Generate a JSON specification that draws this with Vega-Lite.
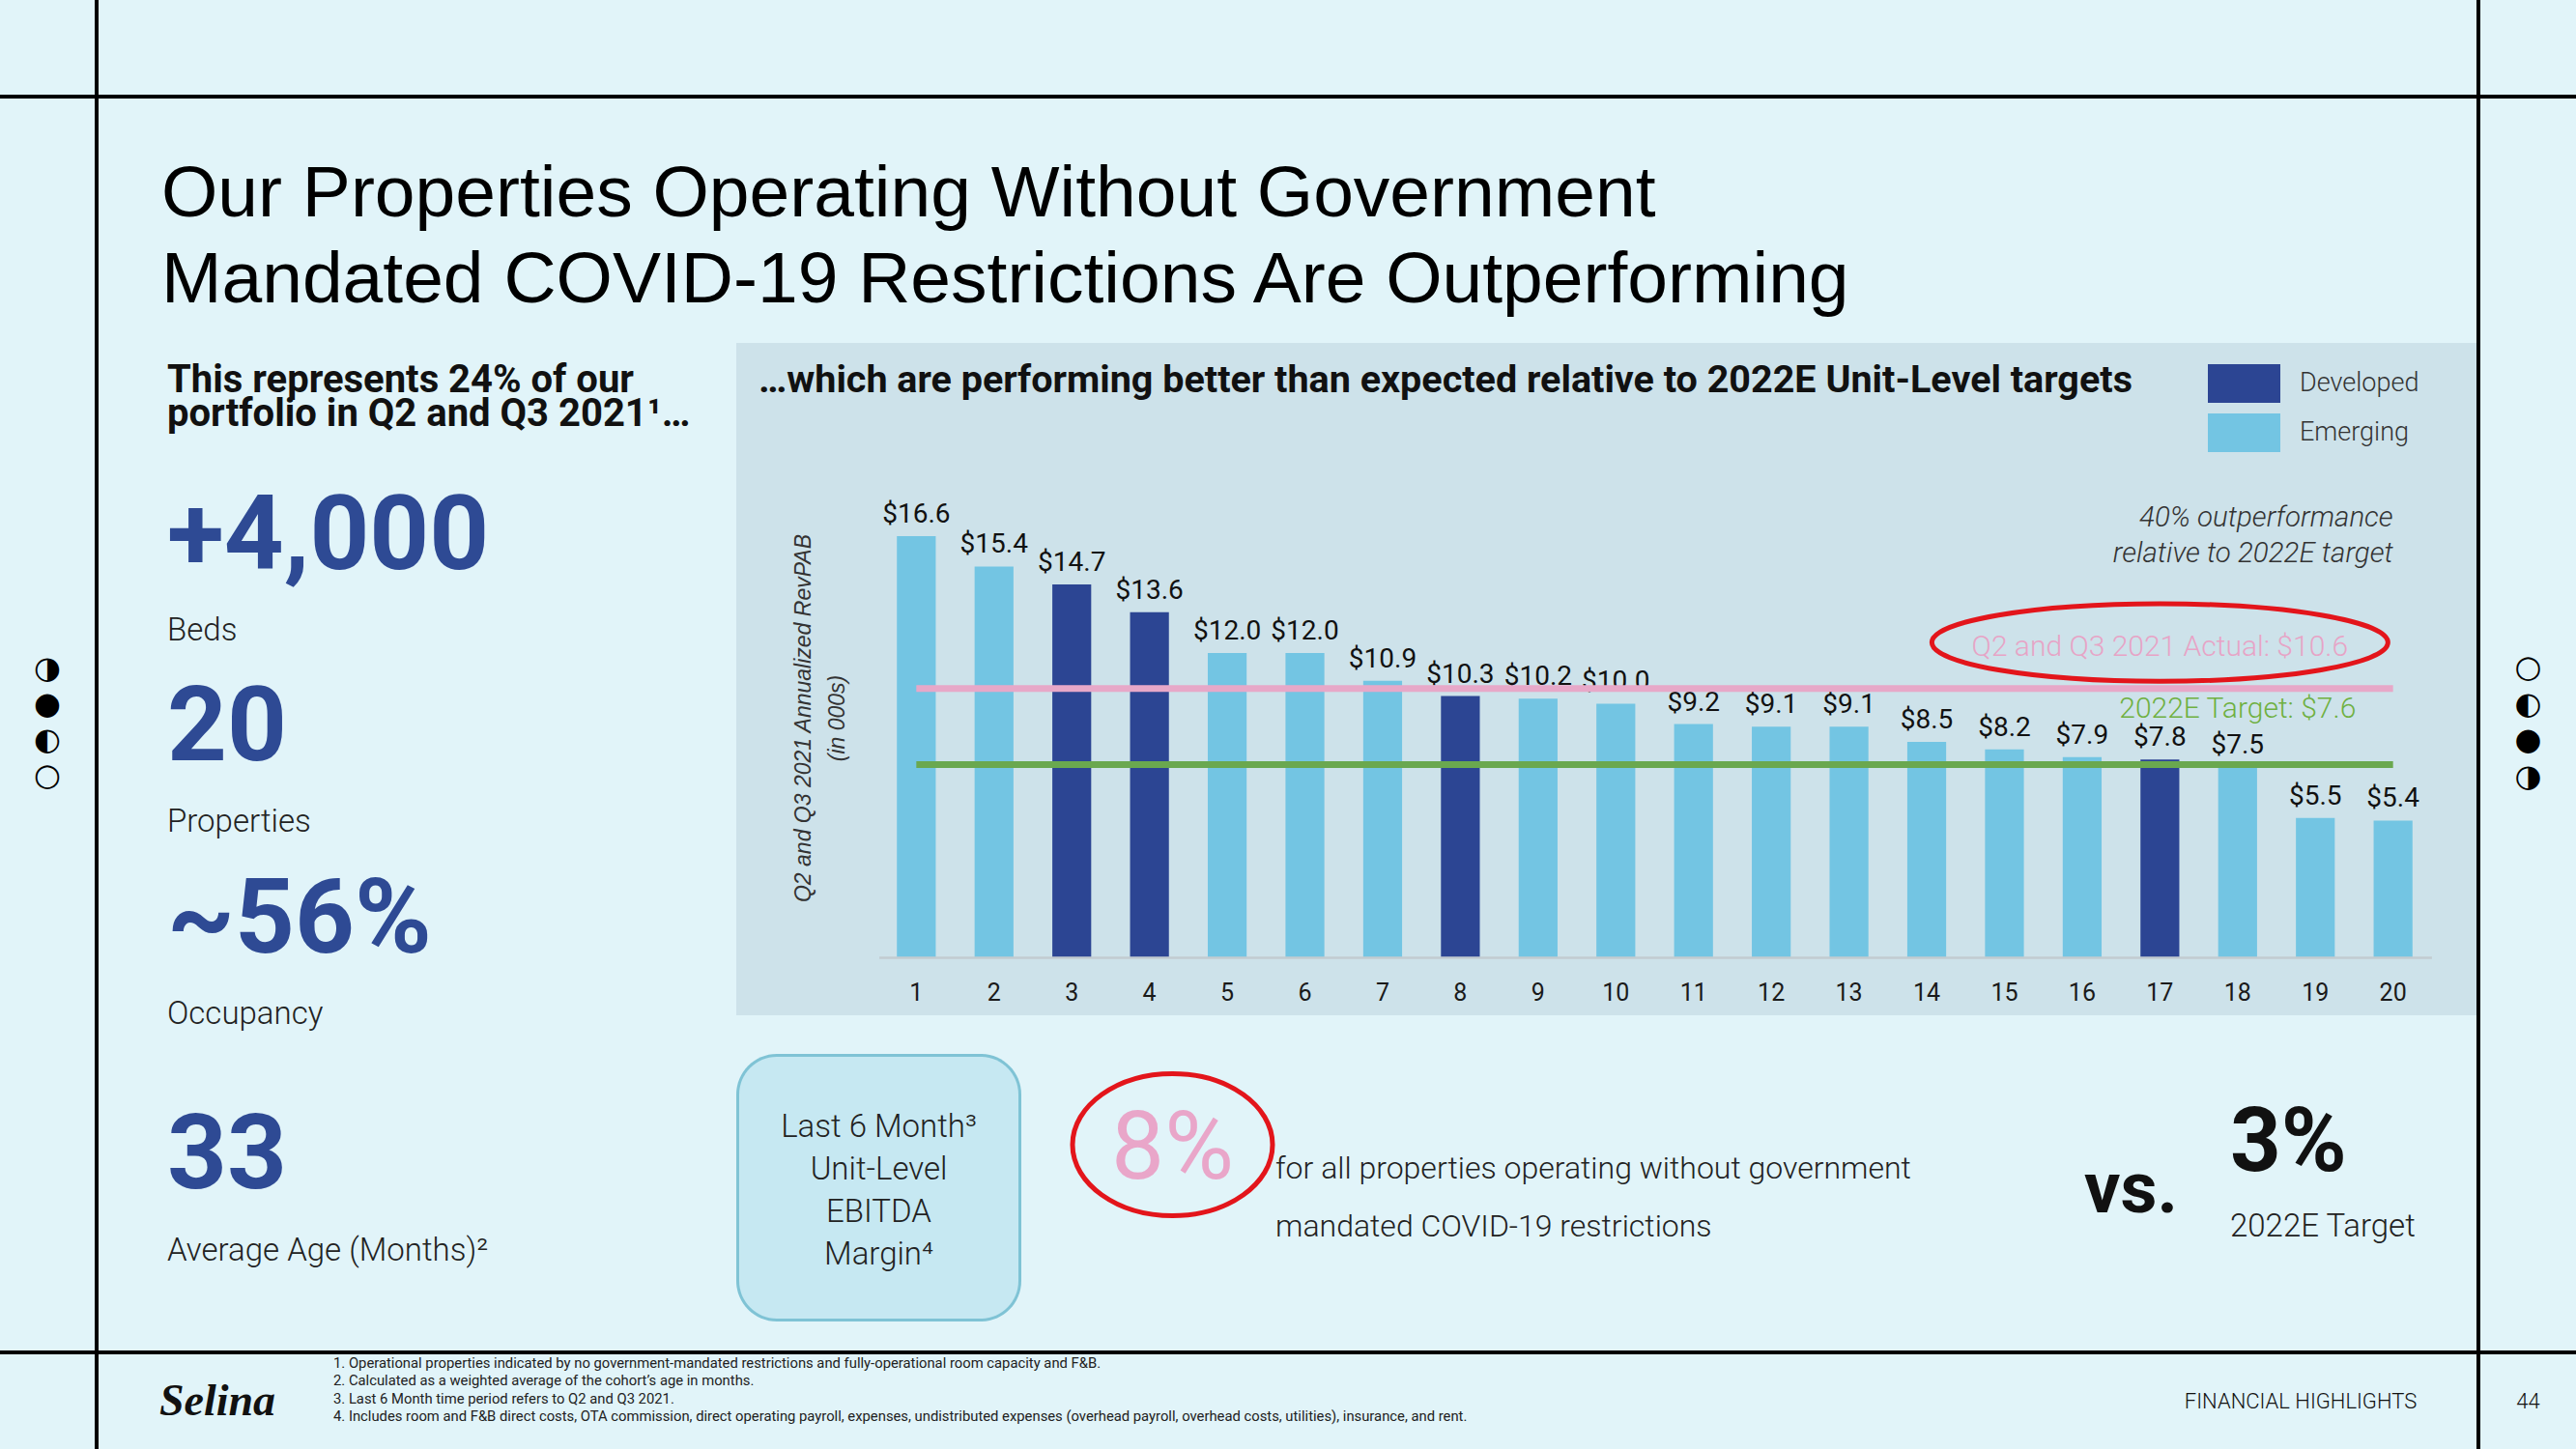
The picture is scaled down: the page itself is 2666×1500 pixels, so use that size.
{
  "$schema": "https://vega.github.io/schema/vega-lite/v6.json",
  "background": "#e1f4f9",
  "padding": 0,
  "spacing": 0,
  "bounds": "full",
  "config": {"view": {"stroke": null}, "concat": {"spacing": 0}, "font": "Roboto"},
  "datasets": {
    "bars": [
      {"property": 1, "type": "Emerging", "revpab": 16.6},
      {"property": 2, "type": "Emerging", "revpab": 15.4},
      {"property": 3, "type": "Developed", "revpab": 14.7},
      {"property": 4, "type": "Developed", "revpab": 13.6},
      {"property": 5, "type": "Emerging", "revpab": 12.0},
      {"property": 6, "type": "Emerging", "revpab": 12.0},
      {"property": 7, "type": "Emerging", "revpab": 10.9},
      {"property": 8, "type": "Developed", "revpab": 10.3},
      {"property": 9, "type": "Emerging", "revpab": 10.2},
      {"property": 10, "type": "Emerging", "revpab": 10.0},
      {"property": 11, "type": "Emerging", "revpab": 9.2},
      {"property": 12, "type": "Emerging", "revpab": 9.1},
      {"property": 13, "type": "Emerging", "revpab": 9.1},
      {"property": 14, "type": "Emerging", "revpab": 8.5},
      {"property": 15, "type": "Emerging", "revpab": 8.2},
      {"property": 16, "type": "Emerging", "revpab": 7.9},
      {"property": 17, "type": "Developed", "revpab": 7.8},
      {"property": 18, "type": "Emerging", "revpab": 7.5},
      {"property": 19, "type": "Emerging", "revpab": 5.5},
      {"property": 20, "type": "Emerging", "revpab": 5.4}
    ],
    "kpis": [
      {"value": "+4,000", "label": "Beds"},
      {"value": "20", "label": "Properties"},
      {"value": "~56%", "label": "Occupancy"},
      {"value": "33", "label": "Average Age (Months)²"}
    ],
    "targets": [
      {"target": "Q2 and Q3 2021 Actual", "value": 10.6, "label": "Q2 and Q3 2021 Actual: $10.6"},
      {"target": "2022E Target", "value": 7.6, "label": "2022E Target: $7.6"}
    ]
  },
  "vconcat": [
    {"spacing": 0, "bounds": "flush", "hconcat": [
      {"width": 98, "height": 98, "data": {"values": []}, "mark": "point", "encoding": {}},
      {"width": 4, "height": 98, "data": {"values": []}, "mark": "point", "encoding": {}, "view": {"fill": "#000000"}},
      {"width": 2461, "height": 98, "data": {"values": []}, "mark": "point", "encoding": {}},
      {"width": 4, "height": 98, "data": {"values": []}, "mark": "point", "encoding": {}, "view": {"fill": "#000000"}},
      {"width": 99, "height": 98, "data": {"values": []}, "mark": "point", "encoding": {}}
    ]},
    {"width": 2666, "height": 4, "data": {"values": []}, "mark": "point", "encoding": {}, "view": {"fill": "#000000"}},
    {"spacing": 0, "bounds": "flush", "hconcat": [
      {"width": 98, "height": 253, "data": {"values": []}, "mark": "point", "encoding": {}},
      {"width": 4, "height": 253, "data": {"values": []}, "mark": "point", "encoding": {}, "view": {"fill": "#000000"}},
      {"width": 64, "height": 1, "data": {"values": []}, "mark": "point", "encoding": {}},
      {"width": 2, "height": 244, "data": {"values": [{}]}, "mark": {"type": "text", "text": ["Our Properties Operating Without Government", "Mandated COVID-19 Restrictions Are Outperforming"], "font": "Liberation Sans", "fontSize": 75, "lineHeight": 89, "align": "left", "baseline": "alphabetic", "color": "#000000"}, "encoding": {}},
      {"width": 2395, "height": 1, "data": {"values": []}, "mark": "point", "encoding": {}},
      {"width": 4, "height": 253, "data": {"values": []}, "mark": "point", "encoding": {}, "view": {"fill": "#000000"}},
      {"width": 99, "height": 1, "data": {"values": []}, "mark": "point", "encoding": {}}
    ]},
    {"spacing": 0, "bounds": "flush", "hconcat": [
      {"width": 98, "height": 140, "data": {"values": []}, "mark": "point", "encoding": {}},
      {"width": 4, "height": 140, "data": {"values": []}, "mark": "point", "encoding": {}, "view": {"fill": "#000000"}},
      {"width": 70, "height": 1, "data": {"values": []}, "mark": "point", "encoding": {}},
      {"width": 2, "height": 102, "data": {"values": [{}]}, "mark": {"type": "text", "text": ["This represents 24% of our", "portfolio in Q2 and Q3 2021¹…"], "fontSize": 40, "fontWeight": "bold", "lineHeight": 35, "align": "left", "baseline": "alphabetic", "color": "#111111"}, "encoding": {}},
      {"width": 588, "height": 1, "data": {"values": []}, "mark": "point", "encoding": {}},
      {"width": 23, "height": 140, "data": {"values": []}, "mark": "point", "encoding": {}, "view": {"fill": "#cde2ea"}},
      {"width": 1500, "height": 140, "view": {"fill": "#cde2ea"}, "data": {"values": [{}]}, "mark": {"type": "text", "text": "…which are performing better than expected relative to 2022E Unit-Level targets", "align": "left", "baseline": "alphabetic", "dy": -19, "fontWeight": "bold", "fontSize": 39.5, "color": "#111111"}, "encoding": {"x": {"datum": 0, "type": "quantitative", "scale": {"domain": [0, 1]}, "axis": null}}},
      {"width": 75, "height": 140, "view": {"fill": "#cde2ea"}, "data": {"name": "bars"}, "transform": [{"aggregate": [{"op": "count", "as": "n"}], "groupby": ["type"]}], "mark": {"type": "bar"},
       "encoding": {"y": {"field": "type", "type": "nominal", "sort": ["Developed", "Emerging"], "scale": {"type": "band", "paddingInner": 0.216, "paddingOuter": 0.48, "align": 0.449}, "axis": null},
                    "x": {"datum": 1, "type": "quantitative", "scale": {"domain": [0, 1], "nice": false}, "axis": null},
                    "color": {"field": "type", "type": "nominal", "scale": {"domain": ["Developed", "Emerging"], "range": ["#2c4593", "#73c5e3"]}, "legend": null}}},
      {"width": 20, "height": 140, "data": {"values": []}, "mark": "point", "encoding": {}, "view": {"fill": "#cde2ea"}},
      {"width": 183, "height": 140, "view": {"fill": "#cde2ea"}, "data": {"name": "bars"}, "transform": [{"aggregate": [{"op": "count", "as": "n"}], "groupby": ["type"]}], "mark": {"type": "text", "align": "left", "baseline": "middle", "fontWeight": 300, "fontSize": 27, "color": "#333333"},
       "encoding": {"y": {"field": "type", "type": "nominal", "sort": ["Developed", "Emerging"], "scale": {"type": "band", "paddingInner": 0.216, "paddingOuter": 0.48, "align": 0.449}, "axis": null},
                    "x": {"datum": 0, "type": "quantitative", "scale": {"domain": [0, 1]}, "axis": null},
                    "text": {"field": "type", "type": "nominal"}}},
      {"width": 4, "height": 140, "data": {"values": []}, "mark": "point", "encoding": {}, "view": {"fill": "#000000"}},
      {"width": 99, "height": 1, "data": {"values": []}, "mark": "point", "encoding": {}}
    ]},
    {"spacing": 0, "bounds": "flush", "hconcat": [
      {"width": 98, "height": 414, "data": {"values": [{}]}, "mark": {"type": "text", "text": ["◑", "●", "◐", "○"], "font": "DejaVu Sans", "fontSize": 32, "lineHeight": 37, "align": "center", "baseline": "alphabetic", "color": "#000000"}, "encoding": {}},
      {"width": 4, "height": 577, "data": {"values": []}, "mark": "point", "encoding": {}, "view": {"fill": "#000000"}},
      {"width": 70, "height": 577, "data": {"values": []}, "mark": "point", "encoding": {}},
      {"width": 2, "height": 556, "data": {"name": "kpis"}, "transform": [{"filter": "datum.value != '33'"}],
       "encoding": {"y": {"field": "value", "type": "nominal", "sort": null, "scale": {"type": "point", "padding": 0.4, "align": 0.591}, "axis": null}},
       "layer": [
         {"mark": {"type": "text", "align": "left", "baseline": "alphabetic", "fontWeight": "bold", "fontSize": 108, "color": "#2e4a94"}, "encoding": {"text": {"field": "value", "type": "nominal"}}},
         {"mark": {"type": "text", "align": "left", "baseline": "alphabetic", "dy": 74, "fontWeight": 300, "fontSize": 33, "color": "#222222"}, "encoding": {"text": {"field": "label", "type": "nominal"}}}
       ]},
      {"width": 588, "height": 1, "data": {"values": []}, "mark": "point", "encoding": {}},
      {"width": 126, "height": 556, "data": {"values": []}, "mark": "point", "encoding": {}, "view": {"fill": "#cde2ea"}},
      {
        "width": 1649, "height": 556,
        "view": {"fill": "#cde2ea"},
        "data": {"name": "bars"},
        "layer": [
          {"mark": {"type": "bar"},
           "encoding": {
             "x": {"field": "property", "type": "ordinal", "scale": {"paddingInner": 0.5, "paddingOuter": 0.5, "align": 0.5}, "axis": {"orient": "bottom", "offset": -60, "domain": false, "ticks": false, "grid": false, "labelPadding": 24, "labelAngle": 0, "labelFont": "Roboto", "labelFontSize": 25, "labelColor": "#1a1a1a", "title": null}},
             "y": {"field": "revpab", "type": "quantitative", "scale": {"domain": [-2.262, 18.878], "nice": false, "zero": false}, "axis": {"orient": "left", "domain": false, "ticks": false, "labels": false, "grid": false, "title": ["Q2 and Q3 2021 Annualized RevPAB", "(in 000s)"], "titleFont": "Liberation Sans", "titleFontStyle": "italic", "titleFontWeight": "normal", "titleFontSize": 23, "titleColor": "#333333", "titleLineHeight": 35, "titleX": -45, "titleY": 248, "titleAngle": 270, "titleBaseline": "bottom", "titleAlign": "center"}},
             "y2": {"datum": 0},
             "color": {"field": "type", "type": "nominal", "scale": {"domain": ["Developed", "Emerging"], "range": ["#2c4593", "#73c5e3"]}, "legend": null}
           }},
          {"mark": {"type": "text", "baseline": "alphabetic", "dy": -14, "fontSize": 28, "color": "#111111"},
           "encoding": {"x": {"field": "property", "type": "ordinal"}, "y": {"field": "revpab", "type": "quantitative"}, "text": {"field": "revpab", "type": "quantitative", "format": "$.1f"}}},
          {"data": {"values": [{}]}, "mark": {"type": "rule", "color": "#c2cbd0", "strokeWidth": 2.5},
           "encoding": {"x": {"datum": 1, "type": "ordinal", "bandPosition": -0.45}, "x2": {"datum": 20, "bandPosition": 1.5}, "y": {"datum": 0, "type": "quantitative"}}},
          {"data": {"name": "targets"}, "mark": {"type": "rule", "strokeWidth": 7},
           "encoding": {"x": {"datum": 1, "type": "ordinal", "bandPosition": 0.5}, "x2": {"datum": 20, "bandPosition": 0.5}, "y": {"field": "value", "type": "quantitative"}, "stroke": {"field": "target", "type": "nominal", "scale": {"domain": ["Q2 and Q3 2021 Actual", "2022E Target"], "range": ["#e7a8c8", "#6aa84f"]}, "legend": null}}},
          {"data": {"name": "targets"}, "transform": [{"filter": "datum.target == 'Q2 and Q3 2021 Actual'"}], "mark": {"type": "text", "align": "center", "baseline": "alphabetic", "fontWeight": 300, "fontSize": 30, "color": "#e7a4c6"},
           "encoding": {"x": {"datum": 17, "type": "ordinal"}, "y": {"datum": 11.88, "type": "quantitative"}, "text": {"field": "label", "type": "nominal"}}},
          {"data": {"name": "targets"}, "transform": [{"filter": "datum.target == '2022E Target'"}], "mark": {"type": "text", "align": "center", "baseline": "alphabetic", "fontWeight": 300, "fontSize": 30, "color": "#6fb041"},
           "encoding": {"x": {"datum": 18, "type": "ordinal"}, "y": {"datum": 9.45, "type": "quantitative"}, "text": {"field": "label", "type": "nominal"}}},
          {"data": {"values": [{}]}, "mark": {"type": "point", "shape": "M-1,0A1,0.17 0 1,1 1,0A1,0.17 0 1,1 -1,0Z", "size": 222784, "filled": false, "stroke": "#e3151b", "strokeWidth": 5, "opacity": 1},
           "encoding": {"x": {"datum": 17, "type": "ordinal"}, "y": {"datum": 12.41, "type": "quantitative"}}},
          {"data": {"values": [{}]}, "mark": {"type": "text", "text": ["40% outperformance", "relative to 2022E target"], "align": "right", "baseline": "alphabetic", "lineHeight": 37, "fontStyle": "italic", "fontWeight": 300, "fontSize": 29.5, "color": "#333333"},
           "encoding": {"x": {"datum": 20, "type": "ordinal"}, "y": {"datum": 16.98, "type": "quantitative"}}}
        ]
      },
      {"width": 26, "height": 556, "data": {"values": []}, "mark": "point", "encoding": {}, "view": {"fill": "#cde2ea"}},
      {"width": 4, "height": 577, "data": {"values": []}, "mark": "point", "encoding": {}, "view": {"fill": "#000000"}},
      {"width": 99, "height": 412, "data": {"values": [{}]}, "mark": {"type": "text", "text": ["○", "◐", "●", "◑"], "font": "DejaVu Sans", "fontSize": 32, "lineHeight": 37.7, "align": "center", "baseline": "alphabetic", "color": "#000000"}, "encoding": {}}
    ]},
    {"spacing": 0, "bounds": "flush", "hconcat": [
      {"width": 98, "height": 19, "data": {"values": []}, "mark": "point", "encoding": {}},
      {"width": 4, "height": 19, "data": {"values": []}, "mark": "point", "encoding": {}, "view": {"fill": "#000000"}},
      {"width": 2461, "height": 1, "data": {"values": []}, "mark": "point", "encoding": {}},
      {"width": 4, "height": 19, "data": {"values": []}, "mark": "point", "encoding": {}, "view": {"fill": "#000000"}},
      {"width": 99, "height": 1, "data": {"values": []}, "mark": "point", "encoding": {}}
    ]},
    {"spacing": 0, "bounds": "flush", "hconcat": [
      {"width": 98, "height": 307, "data": {"values": []}, "mark": "point", "encoding": {}},
      {"width": 4, "height": 307, "data": {"values": []}, "mark": "point", "encoding": {}, "view": {"fill": "#000000"}},
      {"width": 70, "height": 1, "data": {"values": []}, "mark": "point", "encoding": {}},
      {"width": 2, "height": 278, "data": {"name": "kpis"}, "transform": [{"filter": "datum.value == '33'"}],
       "layer": [
         {"mark": {"type": "text", "align": "left", "baseline": "alphabetic", "fontWeight": "bold", "fontSize": 108, "color": "#2e4a94"}, "encoding": {"text": {"field": "value", "type": "nominal"}}},
         {"mark": {"type": "text", "align": "left", "baseline": "alphabetic", "dy": 75, "fontWeight": 300, "fontSize": 33, "color": "#222222"}, "encoding": {"text": {"field": "label", "type": "nominal"}}}
       ]},
      {"width": 588, "height": 1, "data": {"values": []}, "mark": "point", "encoding": {}},
      {"width": 295, "height": 277, "view": {"fill": "#7fc3d5", "cornerRadius": 42}, "data": {"values": [{}]}, "layer": [
        {"mark": {"type": "point", "shape": "M-0.7301,-0.9377H0.7301A0.2699,0.2699 0 0 1 1,-0.6678V0.6678A0.2699,0.2699 0 0 1 0.7301,0.9377H-0.7301A0.2699,0.2699 0 0 1 -1,0.6678V-0.6678A0.2699,0.2699 0 0 1 -0.7301,-0.9377Z", "size": 83521, "filled": true, "fill": "#c6e8f2", "strokeWidth": 0, "opacity": 1}, "encoding": {}},
        {"mark": {"type": "text", "text": ["Last 6 Month³", "Unit-Level", "EBITDA", "Margin⁴"], "align": "center", "baseline": "alphabetic", "lineHeight": 44, "dy": -52.5, "fontWeight": 300, "fontSize": 33, "color": "#222222"}, "encoding": {}}
      ]},
      {"width": 51, "height": 1, "data": {"values": []}, "mark": "point", "encoding": {}},
      {"width": 211, "height": 188, "data": {"values": [{}]}, "layer": [
        {"mark": {"type": "point", "shape": "M-1,0A1,0.71 0 1,1 1,0A1,0.71 0 1,1 -1,0Z", "size": 42849, "filled": false, "stroke": "#e3151b", "strokeWidth": 5, "opacity": 1}, "encoding": {}},
        {"mark": {"type": "text", "text": "8%", "align": "center", "baseline": "middle", "dy": 6, "fontWeight": "normal", "fontSize": 98, "color": "#e9a6c9"}, "encoding": {}}
      ]},
      {"width": 2, "height": 258, "data": {"values": [{}]}, "mark": {"type": "text", "text": ["for all properties operating without government", "\u00a0\u00a0mandated COVID-19 restrictions"], "align": "left", "baseline": "alphabetic", "lineHeight": 60, "fontWeight": 300, "fontSize": 32, "color": "#222222"}, "encoding": {}},
      {"width": 840, "height": 1, "data": {"values": []}, "mark": "point", "encoding": {}},
      {"width": 89, "height": 284, "data": {"values": [{}]}, "mark": {"type": "text", "text": "vs.", "align": "center", "baseline": "middle", "fontSize": 74, "fontWeight": "bold", "color": "#111111"}, "encoding": {}},
      {"width": 57, "height": 1, "data": {"values": []}, "mark": "point", "encoding": {}},
      {"width": 2, "height": 242, "data": {"values": [{}]}, "layer": [
        {"mark": {"type": "text", "text": "3%", "align": "left", "baseline": "alphabetic", "fontSize": 92, "fontWeight": "bold", "color": "#111111"}, "encoding": {}},
        {"mark": {"type": "text", "text": "2022E Target", "align": "left", "baseline": "alphabetic", "dy": 68, "fontWeight": 300, "fontSize": 33, "color": "#222222"}, "encoding": {}}
      ]},
      {"width": 254, "height": 1, "data": {"values": []}, "mark": "point", "encoding": {}},
      {"width": 4, "height": 307, "data": {"values": []}, "mark": "point", "encoding": {}, "view": {"fill": "#000000"}},
      {"width": 99, "height": 1, "data": {"values": []}, "mark": "point", "encoding": {}}
    ]},
    {"width": 2666, "height": 4, "data": {"values": []}, "mark": "point", "encoding": {}, "view": {"fill": "#000000"}},
    {"spacing": 0, "bounds": "flush", "hconcat": [
      {"width": 98, "height": 98, "data": {"values": []}, "mark": "point", "encoding": {}},
      {"width": 4, "height": 98, "data": {"values": []}, "mark": "point", "encoding": {}, "view": {"fill": "#000000"}},
      {"width": 64, "height": 1, "data": {"values": []}, "mark": "point", "encoding": {}},
      {"width": 118, "height": 98, "data": {"values": [{}]}, "mark": {"type": "text", "text": "Selina", "font": "Liberation Serif", "fontStyle": "italic", "fontWeight": "bold", "fontSize": 46, "align": "center", "baseline": "middle", "color": "#111111"}, "encoding": {}},
      {"width": 60, "height": 1, "data": {"values": []}, "mark": "point", "encoding": {}},
      {"width": 2, "height": 28, "data": {"values": [{}]}, "mark": {"type": "text", "text": ["1. Operational properties indicated by no government-mandated restrictions and fully-operational room capacity and F&B.", "2. Calculated as a weighted average of the cohort’s age in months.", "3. Last 6 Month time period refers to Q2 and Q3 2021.", "4. Includes room and F&B direct costs, OTA commission, direct operating payroll, expenses, undistributed expenses (overhead payroll, overhead costs, utilities), insurance, and rent."], "align": "left", "baseline": "alphabetic", "lineHeight": 18.3, "fontSize": 14.8, "color": "#222222"}, "encoding": {}},
      {"width": 1912, "height": 1, "data": {"values": []}, "mark": "point", "encoding": {}},
      {"width": 246, "height": 98, "data": {"values": [{}]}, "mark": {"type": "text", "text": "FINANCIAL HIGHLIGHTS", "align": "center", "baseline": "middle", "fontWeight": 300, "fontSize": 22, "color": "#111111"}, "encoding": {}},
      {"width": 59, "height": 1, "data": {"values": []}, "mark": "point", "encoding": {}},
      {"width": 4, "height": 98, "data": {"values": []}, "mark": "point", "encoding": {}, "view": {"fill": "#000000"}},
      {"width": 99, "height": 98, "data": {"values": [{}]}, "mark": {"type": "text", "text": "44", "align": "center", "baseline": "middle", "fontWeight": 300, "fontSize": 22, "color": "#111111"}, "encoding": {}}
    ]}
  ]
}
